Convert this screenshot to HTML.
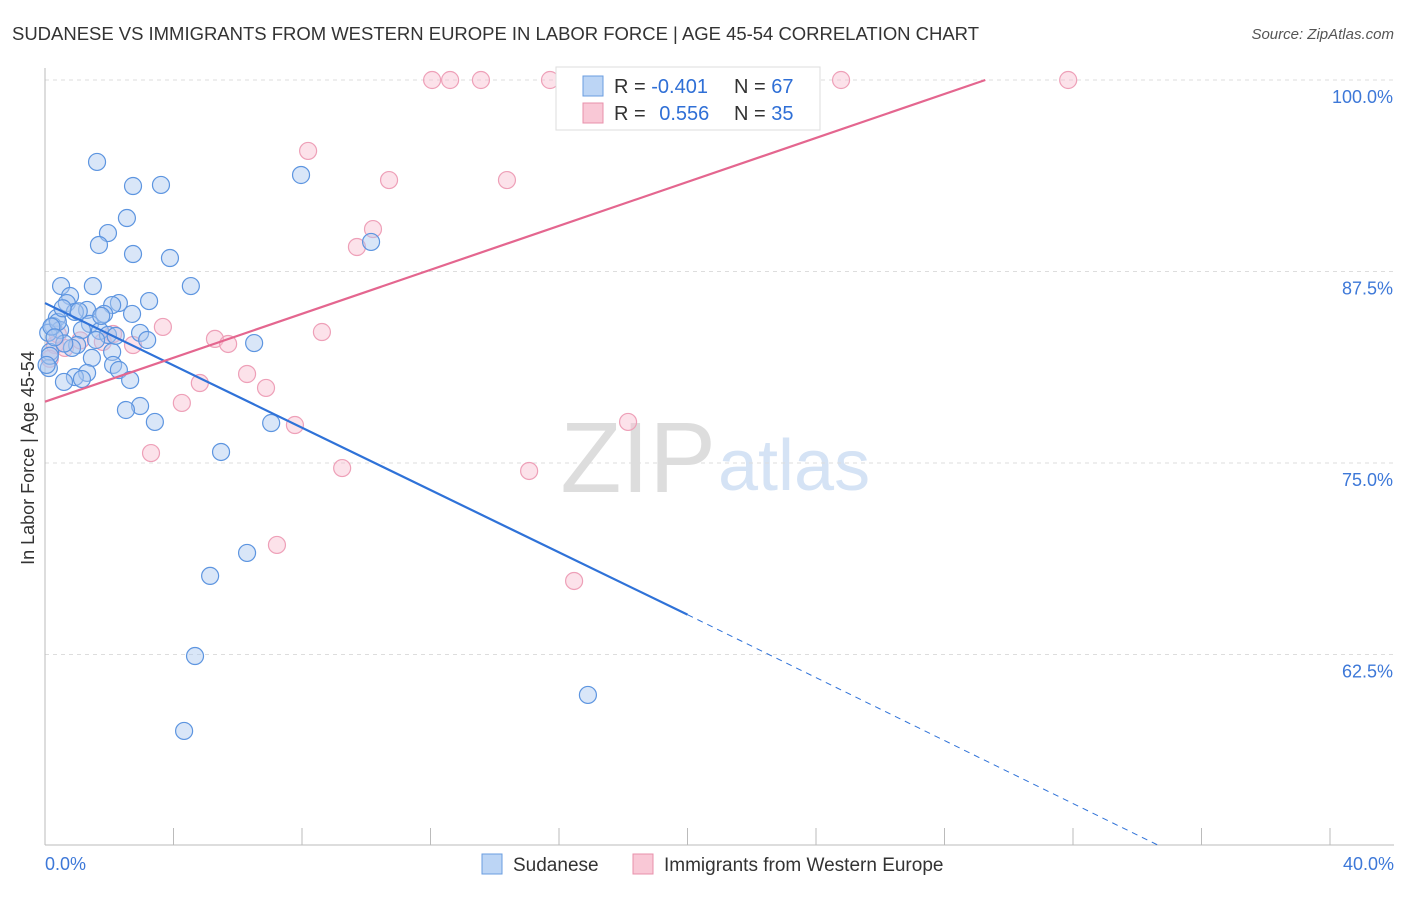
<!DOCTYPE html>
<html><head><meta charset="utf-8"><style>
body{margin:0;background:#fff;font-family:"Liberation Sans",sans-serif}
svg text{font-family:"Liberation Sans",sans-serif}
</style></head><body>
<svg id="c" width="1406" height="892" xmlns="http://www.w3.org/2000/svg">
<text x="12" y="40" font-size="18.5" fill="#333" textLength="967">SUDANESE VS IMMIGRANTS FROM WESTERN EUROPE IN LABOR FORCE | AGE 45-54 CORRELATION CHART</text>
<text x="1394" y="39" font-size="15" fill="#555" text-anchor="end" font-style="italic">Source: ZipAtlas.com</text>
<text x="716" y="492" font-size="100" fill="#ddd" text-anchor="end" font-family="Liberation Serif">ZIP</text>
<text x="718" y="490" font-size="72" fill="#d5e3f5">atlas</text>
<text x="34" y="458" font-size="18" fill="#333" text-anchor="middle" transform="rotate(-90 34 458)">In Labor Force | Age 45-54</text>
<g id="grid"></g><g id="pts"></g><g id="lines"></g>
<g>
<rect x="556" y="67" width="264" height="63" fill="#fff" stroke="#ddd"/>
<rect x="583" y="76" width="20" height="20" fill="#bcd5f5" stroke="#6a9de0"/>
<rect x="583" y="103" width="20" height="20" fill="#f9c8d6" stroke="#e890ab"/>
<text x="614" y="93" font-size="20" fill="#333">R = <tspan fill="#2f6fd6">-0.401</tspan></text>
<text x="734" y="93" font-size="20" fill="#333">N = <tspan fill="#2f6fd6">67</tspan></text>
<text x="614" y="120" font-size="20" fill="#333">R = <tspan fill="#2f6fd6" dx="8">0.556</tspan></text>
<text x="734" y="120" font-size="20" fill="#333">N = <tspan fill="#2f6fd6">35</tspan></text>
</g>
<g>
<rect x="482" y="854" width="20" height="20" fill="#bcd5f5" stroke="#6a9de0"/>
<text x="513" y="871" font-size="19" fill="#333">Sudanese</text>
<rect x="633" y="854" width="20" height="20" fill="#f9c8d6" stroke="#e890ab"/>
<text x="664" y="871" font-size="19" fill="#333">Immigrants from Western Europe</text>
</g>
</svg>
<script>
const yTicks=[100,87.5,75,62.5];
const yTickLabels=["100.0%","87.5%","75.0%","62.5%"];
const xLabels=["0.0%","40.0%"];
const blueX=[1.62,2.74,3.61,2.55,1.96,1.68,2.74,3.89,7.97,10.15,0.50,1.49,4.54,0.78,0.68,3.24,2.30,2.09,1.31,0.93,1.84,2.71,0.37,1.40,0.25,0.47,1.15,1.71,1.96,2.96,3.18,1.59,1.00,0.84,0.16,2.09,6.51,1.46,2.12,2.30,0.12,1.31,0.93,1.15,0.59,2.65,2.96,2.52,3.42,7.04,5.48,6.29,5.14,4.67,4.33,16.90,0.10,0.15,0.40,0.05,0.20,0.60,1.05,0.30,0.55,1.75,2.20];
const blueY=[94.65,93.08,93.15,90.99,90.01,89.23,88.64,88.38,93.80,89.43,86.55,86.55,86.55,85.90,85.44,85.57,85.44,85.31,84.99,84.86,84.73,84.73,84.47,84.08,83.94,83.68,83.68,83.62,83.36,83.49,83.03,83.03,82.70,82.51,82.25,82.25,82.83,81.86,81.40,81.07,81.20,80.88,80.61,80.48,80.29,80.42,78.72,78.46,77.68,77.61,75.72,69.13,67.63,62.40,57.51,59.86,83.50,82.00,84.20,81.40,83.90,82.80,84.90,83.20,85.10,84.60,83.30];
const pinkX=[12.05,12.61,13.57,15.72,21.07,24.78,31.85,8.19,10.71,14.38,10.21,9.71,3.67,5.29,5.70,8.62,2.12,2.74,6.29,4.82,6.88,4.26,7.78,18.15,3.30,9.25,15.07,7.22,16.47,0.31,0.62,0.15,1.10,1.80,0.40];
const pinkY=[100,100,100,100,100,100,100,95.37,93.47,93.47,90.27,89.10,83.88,83.10,82.77,83.55,83.42,82.70,80.81,80.22,79.90,78.92,77.48,77.68,75.65,74.67,74.48,69.65,67.30,82.70,82.51,81.80,83.00,82.90,83.40];
const blueLine=[[0,85.44],[20,65.1],[34.7,50]];
const pinkLine=[[0,79.0],[29.27,100]];
const X=v=>45+v/40*1285, Y=v=>80+(100-v)/12.5*191.5;
const NS="http://www.w3.org/2000/svg";
function mk(p,t,a){const e=document.createElementNS(NS,t);for(const k in a)e.setAttribute(k,a[k]);p.appendChild(e);return e;}
const svg=document.getElementById('c'),grid=document.getElementById('grid'),pts=document.getElementById('pts'),lines=document.getElementById('lines');
yTicks.forEach((t,i)=>{const g=mk(grid,'line',{x1:45,x2:1394,y1:Y(t),y2:Y(t),stroke:'#ddd','stroke-dasharray':'4,4'});


const tx=mk(grid,'text',{x:1393,y:Y(t)+23,'font-size':18,fill:'#3d78d8','text-anchor':'end'});tx.textContent=yTickLabels[i];

});
const ax=mk(grid,'line',{x1:45,x2:1394,y1:845,y2:845,stroke:'#bbb'});


const ay=mk(grid,'line',{x1:45,x2:45,y1:68,y2:845,stroke:'#bbb'});


for(let i=0;i<=10;i++){const tk=mk(grid,'line',{x1:X(i*4),x2:X(i*4),y1:828,y2:845,stroke:'#bbb'});

}
[[0,'start',45],[1,'end',1394]].forEach(([i,a,x])=>{const t=mk(grid,'text',{x:x,y:870,'font-size':18,fill:'#3d78d8','text-anchor':a});t.textContent=xLabels[i];

});
pinkX.forEach((v,i)=>{const c=mk(pts,'circle',{cx:X(v),cy:Y(pinkY[i]),r:8.5,fill:'rgba(249,190,208,0.45)',stroke:'#eea0b8','stroke-width':1.2});

});
blueX.forEach((v,i)=>{const c=mk(pts,'circle',{cx:X(v),cy:Y(blueY[i]),r:8.5,fill:'rgba(170,200,240,0.45)',stroke:'#5d95e0','stroke-width':1.2});

});
const b1=mk(lines,'line',{x1:X(blueLine[0][0]),y1:Y(blueLine[0][1]),x2:X(blueLine[1][0]),y2:Y(blueLine[1][1]),stroke:'#2f72d8','stroke-width':2.2});


const b2=mk(lines,'line',{x1:X(blueLine[1][0]),y1:Y(blueLine[1][1]),x2:X(blueLine[2][0]),y2:Y(blueLine[2][1]),stroke:'#2f72d8','stroke-width':1,'stroke-dasharray':'6,5'});


const p1=mk(lines,'line',{x1:X(pinkLine[0][0]),y1:Y(pinkLine[0][1]),x2:X(pinkLine[1][0]),y2:Y(pinkLine[1][1]),stroke:'#e4668f','stroke-width':2.2});


</script>
</body></html>
